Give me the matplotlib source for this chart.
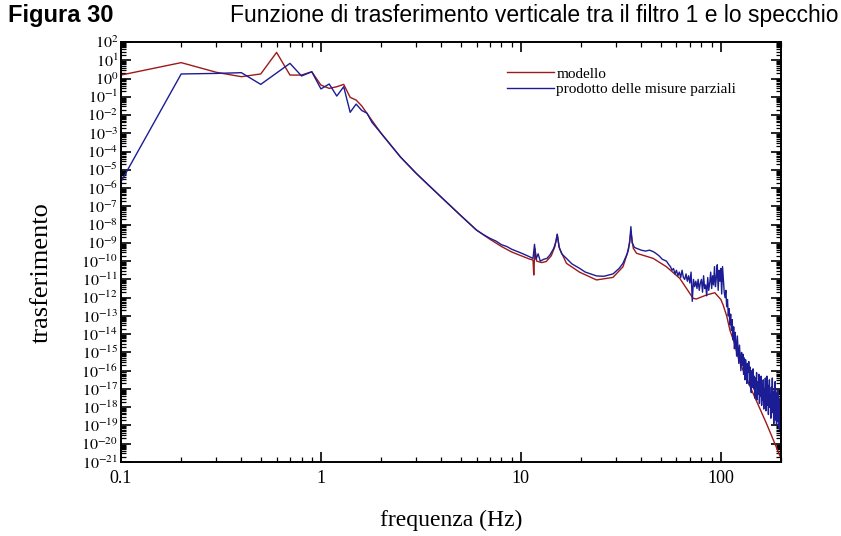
import numpy as np
import matplotlib
matplotlib.use("Agg")
import matplotlib.pyplot as plt
from matplotlib import font_manager
from matplotlib.ticker import LogLocator, FixedLocator, FixedFormatter, NullFormatter

names = {f.name for f in font_manager.fontManager.ttflist}
narrow = 'Liberation Sans Narrow' if 'Liberation Sans Narrow' in names else 'Liberation Sans'
serif = 'Liberation Serif'
plt.rcParams['mathtext.fontset'] = 'stix'
plt.rcParams['font.family'] = [serif, 'DejaVu Serif']

# ---------------- data (log10 of transfer) ----------------
model_f = [0.1, 0.2, 0.3, 0.4, 0.5, 0.6, 0.7, 0.8, 0.9, 1.0, 1.1, 1.2, 1.3, 1.4, 1.5,
           1.6, 1.8, 2.0, 2.5, 3.0, 3.5, 4.0, 5.0, 6.0, 7.0, 8.0, 9.0, 10.0, 11.0, 11.5,
           11.6, 11.75, 12.0, 12.7, 13.4, 14.2, 14.8, 15.2, 15.6, 16.9, 19.7, 23.9, 28.9,
           32.4, 34.5, 35.5, 36.5, 37.9, 45.9, 53.5, 62.4, 72.7, 75.5, 85.0, 93.3, 100.0,
           102.7, 107.0, 111.0, 117.0, 122.0, 128.0, 145.0, 169.0, 200.0]
model_log = [0.19, 0.87, 0.34, 0.10, 0.25, 1.43, 0.19, 0.19, 0.37, -0.36, -0.54, -0.45, -0.32, -1.03, -1.18,
             -1.5, -2.3, -3.0, -4.3, -5.2, -5.9, -6.5, -7.5, -8.3, -8.8, -9.2, -9.5, -9.7, -9.88, -9.94,
             -10.76, -9.3, -10.0, -10.08, -10.02, -9.7, -9.2, -8.53, -9.3, -10.12, -10.61, -11.03, -10.89,
             -10.31, -9.4, -8.39, -9.3, -9.57, -9.85, -10.31, -10.95, -12.04, -12.07, -11.85, -11.73, -12.1,
             -12.4, -13.0, -13.77, -14.5, -15.23, -15.87, -17.24, -18.88, -20.8]

meas_f = [0.1, 0.2, 0.3, 0.4, 0.5, 0.6, 0.7, 0.8, 0.9, 1.0, 1.1, 1.2, 1.3, 1.4, 1.5,
          1.6, 1.7, 1.8, 2.0, 2.5, 3.0, 3.5, 4.0, 5.0, 6.0, 6.5, 7.0, 7.5, 8.0, 8.5, 9.0, 9.5,
          10.0, 10.5, 11.0, 11.5, 11.7, 11.9, 12.2, 12.5, 13.0, 13.5, 14.0, 14.6, 15.0, 15.2,
          15.5, 16.0, 16.9, 18.0, 19.7, 21.0, 23.9, 26.0, 28.9, 31.0, 32.4, 34.0, 35.0, 35.5,
          36.0, 37.0, 37.9, 40.0, 42.0, 44.0, 45.9, 47.0, 49.0, 51.0, 53.5, 55.0]
meas_log = [-5.65, 0.25, 0.28, 0.32, -0.32, 0.30, 0.83, 0.14, 0.37, -0.57, -0.30, -0.96, -0.45, -1.85, -1.40,
            -1.75, -1.9, -2.4, -3.0, -4.3, -5.2, -5.9, -6.5, -7.5, -8.3, -8.55, -8.75, -8.9, -9.1, -9.2, -9.35, -9.45,
            -9.55, -9.65, -9.75, -9.85, -9.08, -9.9, -9.6, -10.0, -9.9, -9.85, -9.65, -9.3, -8.9, -8.53,
            -9.2, -9.6, -9.85, -10.15, -10.4, -10.6, -10.81, -10.83, -10.7, -10.4, -10.12, -9.6, -9.0, -8.11,
            -9.0, -9.25, -9.3, -9.4, -9.45, -9.4, -9.48, -9.55, -9.7, -9.9, -10.0, -10.2]

noisy_f = list(range(56, 201))
noisy_log = [-10.3, -10.5, -10.4, -10.7, -10.5, -10.8, -10.6, -10.9, -10.5, -10.9, -11.0, -10.7, -11.1, -10.8,
             -11.2, -10.6, -12.2, -11.0, -11.4, -11.1, -11.5, -11.0, -11.6, -11.2, -11.0, -11.7, -10.8, -11.5,
             -11.3, -11.9, -10.9, -11.6, -11.2, -10.6, -11.5, -10.8, -11.3, -10.3, -11.4, -10.9, -10.2, -11.6,
             -10.5, -11.1, -10.4, -11.8, -10.3, -11.0, -11.7, -12.0, -11.6, -12.5, -12.1, -13.0, -12.6,
             -13.5, -12.9, -13.8, -13.2, -14.3, -13.6, -14.8, -13.9, -14.5, -15.2, -14.1, -14.9, -15.6, -14.6,
             -15.3, -16.0, -15.0, -15.7, -15.1, -16.2, -15.3, -16.5, -15.4, -15.9, -16.7, -15.6, -16.1, -15.5,
             -16.8, -15.8, -16.4, -17.2, -16.0, -16.9, -15.9, -17.0, -16.3, -17.5, -16.4, -16.9, -16.1, -17.6,
             -16.6, -17.3, -16.2, -17.8, -16.9, -17.4, -16.3, -17.9, -16.8, -17.6, -16.5, -18.1, -17.0, -17.7,
             -16.4, -18.2, -17.1, -16.3, -17.9, -16.8, -18.4, -17.2, -16.5, -18.0, -17.3, -18.6, -16.9, -17.8,
             -16.4, -18.3, -17.5, -18.9, -17.1, -18.0, -16.6, -18.7, -17.6, -19.0, -17.2, -18.4, -17.0, -18.8,
             -17.9, -19.2, -17.5, -18.6, -19.4, -19.8]

x_tick_vals = [0.1, 1, 10, 100]
x_tick_labels = ['0.1', '1', '10', '100']
y_exponents = list(range(-21, 3))

title_left = 'Figura 30'
title_right = 'Funzione di trasferimento verticale tra il filtro 1 e lo specchio'
xlabel = 'frequenza (Hz)'
ylabel = 'trasferimento'
legend_labels = ['modello', 'prodotto delle misure parziali']

red = '#9e1a1a'
blue = '#1c1c94'

# ---------------- figure ----------------
fig = plt.figure(figsize=(8.41, 5.36), dpi=100)
ax = fig.add_axes([121 / 841, 1 - 462 / 536, 660 / 841, 420 / 536])

mf = np.array(model_f)
my = 10.0 ** np.array(model_log)
bf = np.concatenate([meas_f, noisy_f])
by = 10.0 ** np.concatenate([meas_log, noisy_log])

ax.plot(mf, my, color=red, lw=1.0, label=legend_labels[0])
ax.plot(bf, by, color=blue, lw=1.0, label=legend_labels[1])

ax.set_xscale('log')
ax.set_yscale('log')
ax.set_xlim(0.1, 200)
ax.set_ylim(1e-21, 1e2)

ax.xaxis.set_major_locator(FixedLocator(x_tick_vals))
ax.xaxis.set_major_formatter(FixedFormatter(x_tick_labels))
ax.xaxis.set_minor_locator(LogLocator(base=10, subs=np.arange(2, 10), numticks=50))
ax.xaxis.set_minor_formatter(NullFormatter())

yt = [10.0 ** e for e in y_exponents]
ax.yaxis.set_major_locator(FixedLocator(yt))
ax.yaxis.set_major_formatter(FixedFormatter([r'$10^{%d}$' % e for e in y_exponents]))
ax.yaxis.set_minor_locator(LogLocator(base=10, subs=np.arange(2, 10), numticks=100))
ax.yaxis.set_minor_formatter(NullFormatter())

ax.tick_params(which='both', direction='in', top=True, right=True, pad=3)
ax.tick_params(which='major', length=7, width=1.2)
ax.tick_params(which='minor', length=3.5, width=0.9)
ax.tick_params(axis='y', labelsize=11.5, pad=2)
ax.tick_params(axis='x', labelsize=13, pad=6)
for s in ax.spines.values():
    s.set_linewidth(1.4)

ax.set_xlabel(xlabel, fontsize=17, labelpad=16)
ax.set_ylabel(ylabel, fontsize=19)
ax.yaxis.set_label_coords(-0.103, 0.45)

leg = ax.legend(loc='upper left', bbox_to_anchor=(0.575, 0.955), frameon=False, fontsize=11,
                handlelength=3.1, handletextpad=0.15, labelspacing=0.1, borderaxespad=0)

fig.text(8 / 841, 1 - 22 / 536, title_left, family=[narrow, 'DejaVu Sans'], fontweight='bold',
         fontsize=17, ha='left', va='baseline')
fig.text(838 / 841, 1 - 22 / 536, title_right, family=[narrow, 'DejaVu Sans'],
         fontsize=16.5, ha='right', va='baseline')

fig.savefig('out.png', dpi=100)
